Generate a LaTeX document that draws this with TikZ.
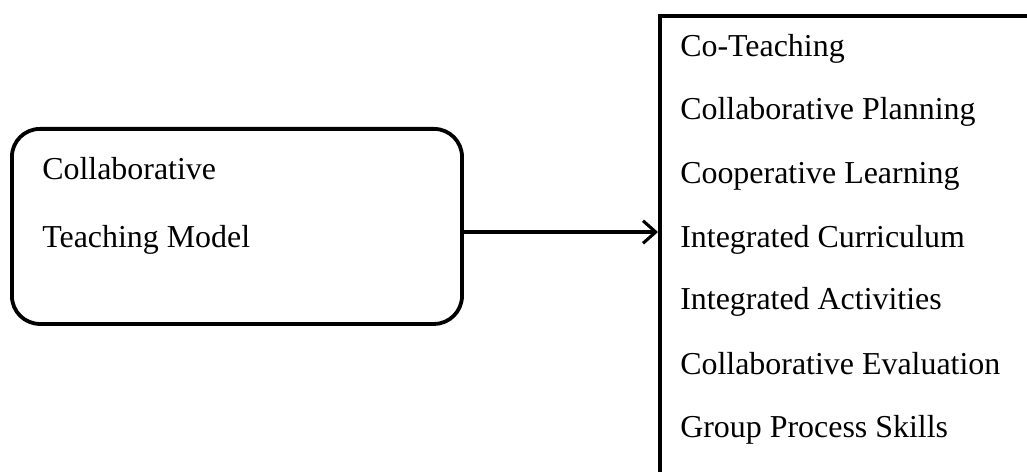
\documentclass[tikz,border=0pt]{standalone}
\usepackage{fontspec}
\setmainfont{Liberation Serif}
\usetikzlibrary{arrows.meta,positioning}

\tikzset{
  modelbox/.style={draw,line width=2.7pt,rounded corners=0.7cm,anchor=north west,
    minimum width=11.25cm,minimum height=4.875cm,inner sep=0pt},
  listbox/.style={draw,line width=2.5pt,anchor=north west,
    minimum width=9.55cm,minimum height=11.9cm,inner sep=0pt},
  itemtext/.style={anchor=base west,inner sep=0pt,font=\fontsize{22.7}{27}\selectfont},
  linkarrow/.style={line width=2.2pt,-{Straight Barb[length=9pt,width=16pt,line width=2.2pt]}},
}

\begin{document}
\begin{tikzpicture}[x=0.025cm,y=-0.025cm]
\clip (0,0) rectangle (1027,472);

\node[modelbox] (model) at (10,127) {};
\node[listbox] (list) at (658,14) {};

\node[itemtext] (mA) at (42,180) {Collaborative};
\node[itemtext] (mB) at (42,248) {Teaching Model};

\node[itemtext] (ct) at (680,57) {Co-Teaching};
\node[itemtext] (cp) at (680,120) {Collaborative Planning};
\node[itemtext] (cl) at (680,184) {Cooperative Learning};
\node[itemtext] (ic) at (680,247) {Integrated Curriculum};
\node[itemtext] (ia) at (680,310) {Integrated Activities};
\node[itemtext] (ce) at (680,374) {Collaborative Evaluation};
\node[itemtext] (gp) at (680,437) {Group Process Skills};

\coordinate (out) at ([yshift=-0.14cm]model.east);
\draw[linkarrow] (out) -- (out -| list.west);

\end{tikzpicture}
\end{document}
